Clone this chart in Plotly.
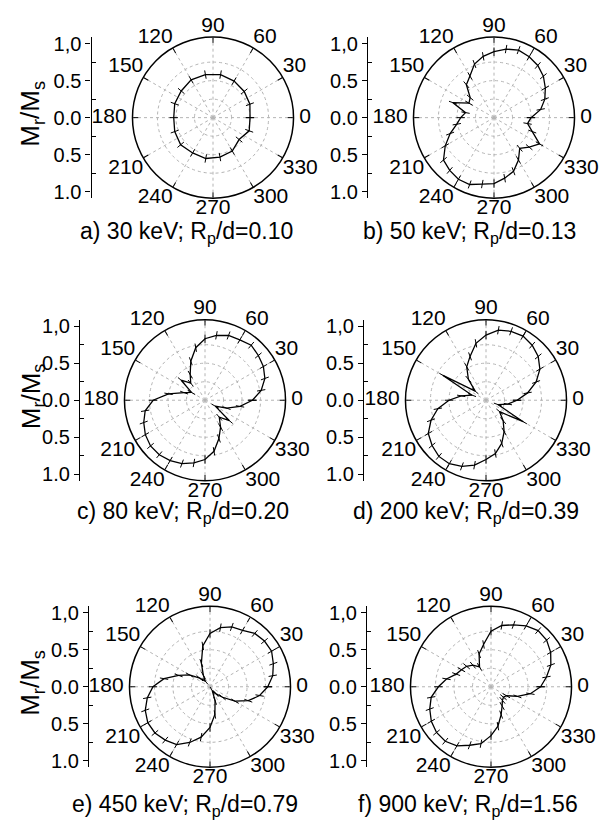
import plotly.graph_objects as go

W, H = 608, 839

# ---------------- data ----------------
theta_20 = [0, 20, 40, 60, 80, 100, 120, 140, 160, 180, 200, 220, 240, 260, 280, 300, 320, 340]
theta_10 = [0, 10, 20, 30, 40, 50, 60, 70, 80, 90, 100, 110, 120, 130, 140, 150, 160, 170,
            180, 190, 200, 210, 220, 230, 240, 250, 260, 270, 280, 290, 300, 310, 320, 330, 340, 350]

r_a = [0.50, 0.53, 0.55, 0.57, 0.59, 0.59, 0.59, 0.56, 0.55, 0.53, 0.55, 0.57, 0.55, 0.56,
       0.54, 0.52, 0.46, 0.52]
r_b = [0.50, 0.64, 0.73, 0.80, 0.87, 0.92, 0.95, 0.97, 0.94, 0.89, 0.84, 0.77, 0.65, 0.58,
       0.42, 0.39, 0.59, 0.39, 0.45, 0.51, 0.63, 0.76, 0.89, 0.93, 0.96, 0.96, 0.91, 0.89,
       0.83, 0.77, 0.66, 0.54, 0.62, 0.71, 0.55, 0.46]
r_c = [0.64, 0.77, 0.86, 0.91, 0.94, 0.97, 0.94, 0.93, 0.89, 0.83, 0.72, 0.56, 0.40, 0.30,
       0.42, 0.21, 0.30, 0.50, 0.70, 0.82, 0.88, 0.93, 0.96, 0.96, 0.94, 0.91, 0.86, 0.80,
       0.70, 0.55, 0.42, 0.30, 0.43, 0.16, 0.31, 0.48]
r_d = [0.42, 0.57, 0.72, 0.84, 0.92, 0.97, 1.00, 0.99, 0.96, 0.88, 0.78, 0.63, 0.52, 0.37,
       0.19, 0.67, 0.20, 0.34, 0.50, 0.66, 0.79, 0.90, 0.95, 0.99, 0.99, 0.95, 0.89, 0.80,
       0.73, 0.62, 0.49, 0.36, 0.24, 0.58, 0.17, 0.30]
r_e = [0.78, 0.86, 0.91, 0.96, 0.96, 0.94, 0.88, 0.86, 0.81, 0.72, 0.56, 0.34, 0.18, 0.10,
       0.18, 0.32, 0.45, 0.63, 0.77, 0.86, 0.93, 0.97, 0.97, 0.94, 0.90, 0.80, 0.69, 0.55,
       0.38, 0.20, 0.06, 0.12, 0.22, 0.39, 0.55, 0.68]
r_f = [0.67, 0.76, 0.86, 0.93, 0.98, 0.99, 0.95, 0.89, 0.84, 0.75, 0.58, 0.47, 0.31, 0.38,
       0.43, 0.46, 0.50, 0.61, 0.71, 0.82, 0.88, 0.93, 0.96, 0.96, 0.92, 0.84, 0.78, 0.66,
       0.54, 0.40, 0.30, 0.24, 0.22, 0.24, 0.38, 0.54]

captions = ["a) 30 keV; R<sub>p</sub>/d=0.10", "b) 50 keV; R<sub>p</sub>/d=0.13",
            "c) 80 keV; R<sub>p</sub>/d=0.20", "d) 200 keV; R<sub>p</sub>/d=0.39",
            "e) 450 keV; R<sub>p</sub>/d=0.79", "f) 900 keV; R<sub>p</sub>/d=1.56"]
angle_ticks = [0, 30, 60, 90, 120, 150, 180, 210, 240, 270, 300, 330]
angle_labels = ["0", "30", "60", "90", "120", "150", "180", "210", "240", "270", "300", "330"]
axis_tickvals = [1.0, 0.5, 0.0, -0.5, -1.0]
axis_ticktext = ["1,0", "0.5", "0.0", "0.5", "1.0"]
ylabel = "M<sub>r</sub>/M<sub>s</sub>"

series = [(theta_20, r_a), (theta_10, r_b), (theta_10, r_c),
          (theta_10, r_d), (theta_10, r_e), (theta_10, r_f)]

# ---------------- layout geometry (pixels) ----------------
R = 81.5
RMAX = 1.087
centers = [(213, 114), (494, 114), (205, 400), (486, 400), (210, 690), (491, 690)]
axis_x = [91.5, 368, 80, 364, 89, 367]
cap_pos = [(186, 230), (469, 230), (183, 514), (466, 514), (185, 810), (468, 810)]
label_pos = ["middle right", "top right", "top right", "top center", "top left", "top left",
             "middle left", "bottom left", "bottom left", "bottom center", "bottom right",
             "bottom right"]
NBSP = "\u00a0"
# side labels get a small gap from the rim
label_text = [(NBSP + t) if p == "middle right" else (t + NBSP) if p == "middle left" else t
              for t, p in zip(angle_labels, label_pos)]

FONT = "Liberation Sans, Arial, sans-serif"
GRID = "#b4b4b4"

fig = go.Figure()
layout = dict(width=W, height=H, margin=dict(l=0, r=0, t=0, b=0),
              paper_bgcolor="white", plot_bgcolor="white", showlegend=False,
              font=dict(family=FONT, color="black", size=20), annotations=[])

for i, ((th, rr), (cx, cy)) in enumerate(zip(series, centers)):
    k = "" if i == 0 else str(i + 1)
    th_c = list(th) + [th[0]]
    r_c_ = list(rr) + [rr[0]]
    fig.add_trace(go.Scatterpolar(
        r=r_c_, theta=th_c, subplot="polar" + k, mode="lines+markers",
        line=dict(color="black", width=1.3),
        marker=dict(symbol="line-ns", size=6, color="black",
                    line=dict(color="black", width=1),
                    angle=[90 - t for t in th_c]),
        hoverinfo="skip"))
    # angular tick labels, placed just outside the rim
    fig.add_trace(go.Scatterpolar(
        r=[RMAX] * len(angle_ticks), theta=angle_ticks, subplot="polar" + k,
        mode="text", text=label_text, textposition=label_pos, cliponaxis=False,
        textfont=dict(family=FONT, size=21, color="black"),
        hoverinfo="skip"))
    xd = [(cx - R) / W, (cx + R) / W]
    yd = [1 - (cy + R) / H, 1 - (cy - R) / H]
    layout["polar" + k] = dict(
        domain=dict(x=xd, y=yd), bgcolor="white",
        radialaxis=dict(range=[0, RMAX], tickvals=[0.25, 0.5, 0.75], showticklabels=False,
                        ticks="", showline=False, showgrid=True, gridcolor=GRID,
                        griddash="dot", gridwidth=1),
        angularaxis=dict(rotation=0, direction="counterclockwise", tickmode="array",
                         tickvals=angle_ticks, showticklabels=False,
                         ticks="inside", ticklen=5, tickcolor="black",
                         showline=True, linecolor="black", linewidth=1.5,
                         showgrid=True, gridcolor=GRID, griddash="dot", gridwidth=1))
    # left cartesian axis
    ax = axis_x[i] / W
    xa = "x" + k
    ya = "y" + k
    fig.add_trace(go.Scatter(x=[None], y=[None], xaxis=xa, yaxis=ya, hoverinfo="skip",
                             showlegend=False))
    layout["xaxis" + k] = dict(domain=[ax, ax + 0.02], range=[0, 1], visible=False,
                               anchor=ya, fixedrange=True)
    layout["yaxis" + k] = dict(domain=yd, range=[-RMAX, RMAX], anchor=xa, side="left",
                               tickmode="array", tickvals=axis_tickvals,
                               ticktext=axis_ticktext, ticks="outside", ticklen=5,
                               tickcolor="black", showline=True, linecolor="black",
                               linewidth=1.2, showgrid=False, zeroline=False,
                               tickfont=dict(family=FONT, size=20, color="black"),
                               minor=dict(tickmode="array",
                                          tickvals=[-0.75, -0.25, 0.25, 0.75],
                                          ticks="inside", ticklen=4, tickcolor="black"))
    px, py = cap_pos[i]
    layout["annotations"].append(dict(text=captions[i], x=px / W, y=1 - py / H,
                                      xref="paper", yref="paper", showarrow=False,
                                      xanchor="center", yanchor="middle",
                                      font=dict(family=FONT, size=23, color="black")))
    if i % 2 == 0:
        layout["annotations"].append(dict(text=ylabel, x=32 / W, y=1 - (cy - 4) / H,
                                          xref="paper", yref="paper", showarrow=False,
                                          textangle=-90, xanchor="center", yanchor="middle",
                                          font=dict(family=FONT, size=26, color="black")))

fig.update_layout(**layout)
fig.write_html("out.html", config={"displayModeBar": False},
               post_script="document.body.style.margin='0';")
